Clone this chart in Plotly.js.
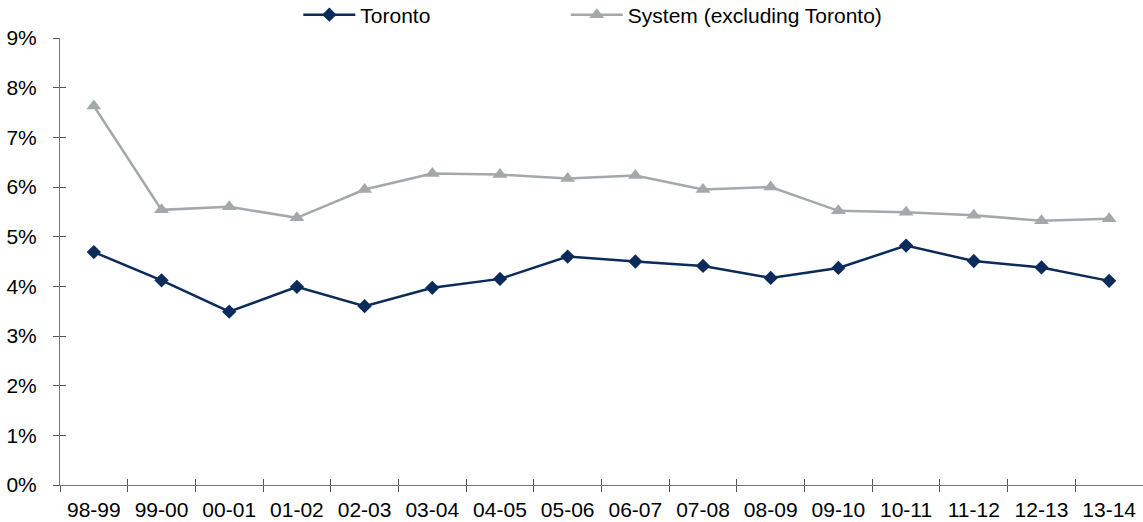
<!DOCTYPE html>
<html>
<head>
<meta charset="utf-8">
<script src="https://cdn.plot.ly/plotly-3.0.1.min.js"></script>
<style>html,body{margin:0;padding:0;background:#fff;}#chart{width:1143px;height:522px;}</style>
</head>
<body>
<div id="chart"></div>
<script>
const categories = ["98-99","99-00","00-01","01-02","02-03","03-04","04-05","05-06","06-07","07-08","08-09","09-10","10-11","11-12","12-13","13-14"];
const toronto = [4.69,4.12,3.49,3.99,3.60,3.97,4.15,4.60,4.50,4.41,4.17,4.37,4.82,4.51,4.38,4.11];
const systemExTor = [7.63,5.54,5.60,5.38,5.95,6.27,6.25,6.17,6.23,5.95,6.00,5.52,5.49,5.43,5.32,5.36];
const yTicks = [0,1,2,3,4,5,6,7,8,9];
const yTickText = yTicks.map(v => v + "%");

const FONT = "Liberation Sans, Arial, sans-serif";
const traces = [
  {x: categories, y: toronto, name: "Toronto", type: "scatter", mode: "lines+markers", legend: "legend",
   line: {color: "#0b2b5a", width: 2.5}, marker: {symbol: "diamond", size: 11, color: "#0b2b5a"}},
  {x: categories, y: systemExTor, name: "System (excluding Toronto)", type: "scatter", mode: "lines+markers", legend: "legend2",
   line: {color: "#a3a8ab", width: 2.5}, marker: {symbol: "triangle-up", size: 13, color: "#a3a8ab"}},
  // invisible helper so the overlay axes (inner half of the crossing ticks) are drawn
  {x: categories, y: toronto, xaxis: "x2", yaxis: "y2", type: "scatter", mode: "none", showlegend: false, hoverinfo: "skip"}
];
const legendBase = {orientation: "h", xref: "container", yref: "container", y: 1 - 15/522, xanchor: "left", yanchor: "middle",
  font: {family: FONT, size: 21, color: "#000"}, itemwidth: 52, bgcolor: "rgba(0,0,0,0)"};
const layout = {
  width: 1143, height: 522,
  margin: {l: 60, r: 0, t: 38, b: 37},
  paper_bgcolor: "#fff", plot_bgcolor: "#fff",
  font: {family: FONT, size: 21, color: "#000"},
  showlegend: true,
  legend: Object.assign({}, legendBase, {x: 0.261}),
  legend2: Object.assign({}, legendBase, {x: 0.495}),
  xaxis: {type: "category", tickson: "boundaries", ticks: "outside", ticklen: 6, tickcolor: "#555",
          showline: true, linecolor: "#777", linewidth: 1, showgrid: false, zeroline: false,
          tickfont: {family: FONT, size: 21}, ticklabelstandoff: 6, range: [-0.5, 15.5]},
  yaxis: {range: [0, 9], tickvals: yTicks, ticktext: yTickText, ticks: "outside", ticklen: 6, tickcolor: "#555",
          showline: true, linecolor: "#777", linewidth: 1, showgrid: false, zeroline: false,
          tickfont: {family: FONT, size: 21}, ticklabelstandoff: 12},
  xaxis2: {type: "category", overlaying: "x", anchor: "y2", side: "bottom", range: [-0.5, 15.5], tickson: "boundaries",
           ticks: "inside", ticklen: 6, tickcolor: "#555", showticklabels: false, showline: false, showgrid: false, zeroline: false},
  yaxis2: {overlaying: "y", anchor: "x2", side: "left", range: [0, 9], tickvals: yTicks, ticks: "inside", ticklen: 6,
           tickcolor: "#555", showticklabels: false, showline: false, showgrid: false, zeroline: false}
};
Plotly.newPlot("chart", traces, layout, {displayModeBar: false, staticPlot: true});
</script>
</body>
</html>
